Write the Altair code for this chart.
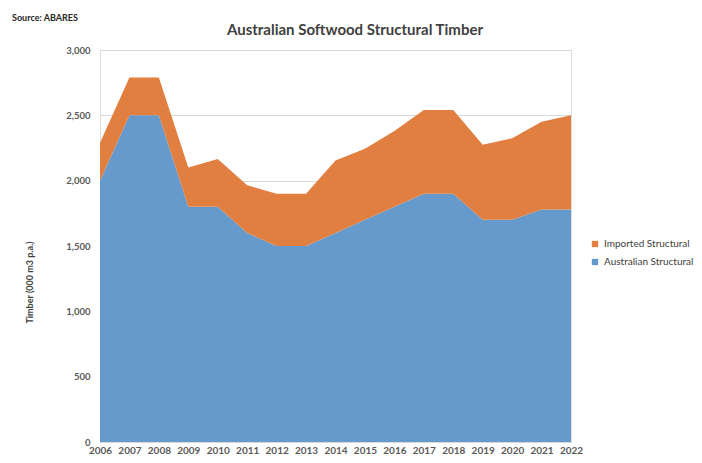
import altair as alt
import pandas as pd

years = list(range(2006, 2023))
australian = [2000, 2500, 2500, 1800, 1800, 1600, 1500, 1500, 1600, 1700, 1800, 1900, 1900, 1700, 1700, 1780, 1780]
total = [2290, 2790, 2790, 2100, 2165, 1965, 1900, 1900, 2155, 2245, 2380, 2540, 2540, 2275, 2325, 2450, 2500]
imported = [t - a for t, a in zip(total, australian)]
series = ["Imported Structural", "Australian Structural"]
colors = ["#E07F3F", "#6699CC"]
y_ticks = [0, 500, 1000, 1500, 2000, 2500, 3000]

rows = []
for i, y in enumerate(years):
    rows.append({"year": y, "series": "Australian Structural", "value": australian[i], "ord": 0})
    rows.append({"year": y, "series": "Imported Structural", "value": imported[i], "ord": 1})
df = pd.DataFrame(rows)

FONT = "Lato"

area = alt.Chart(df).mark_area(opacity=1).encode(
    x=alt.X("year:Q", scale=alt.Scale(domain=[2006, 2022], nice=False, zero=False),
            axis=alt.Axis(values=years, format="d", title=None, grid=False, ticks=False,
                          domain=False, labelFontSize=10, labelFontWeight="bold",
                          labelColor="#595959", labelPadding=3, labelFont=FONT,
                          labelOverlap=False, labelBound=False, labelFlush=False)),
    y=alt.Y("value:Q", stack="zero", scale=alt.Scale(domain=[0, 3000], nice=False),
            axis=alt.Axis(values=y_ticks, format=",.0f", title="Timber (000 m3 p.a.)",
                          grid=True, gridColor="#D9D9D9", ticks=False, domain=False,
                          labelFontSize=9.5, labelFontWeight="bold", labelColor="#595959",
                          labelPadding=10, labelFont=FONT,
                          titleFont=FONT, titleFontSize=9, titleFontWeight="bold",
                          titleColor="#404040", titleX=-66, titleY=232)),
    color=alt.Color("series:N", scale=alt.Scale(domain=series, range=colors),
                    legend=alt.Legend(title=None, orient="none", legendX=490, legendY=189,
                                      symbolType="square", symbolSize=40,
                                      labelFont=FONT, labelFontSize=10, labelColor="#404040",
                                      rowPadding=8, symbolStrokeWidth=0)),
    order=alt.Order("ord:Q", sort="ascending"),
)

source = alt.Chart(pd.DataFrame({"t": ["Source: ABARES"]})).mark_text(
    align="left", baseline="middle", font=FONT, fontSize=9, fontWeight="bold", color="#262626"
).encode(text="t:N", x=alt.value(-88), y=alt.value(-32))

title = alt.Chart(pd.DataFrame({"t": ["Australian Softwood Structural Timber"]})).mark_text(
    align="center", baseline="middle", font=FONT, fontSize=15, fontWeight="bold", color="#404040"
).encode(text="t:N", x=alt.value(255), y=alt.value(-20))

chart = alt.layer(area, source, title).properties(
    width=471, height=392,
    autosize=alt.AutoSizeParams(type="none"),
    padding={"left": 92, "top": 42, "right": 123, "bottom": 13},
).configure_view(stroke=None).configure(background="white")

chart.save("out.html", embed_options={"renderer": "svg", "actions": False})
